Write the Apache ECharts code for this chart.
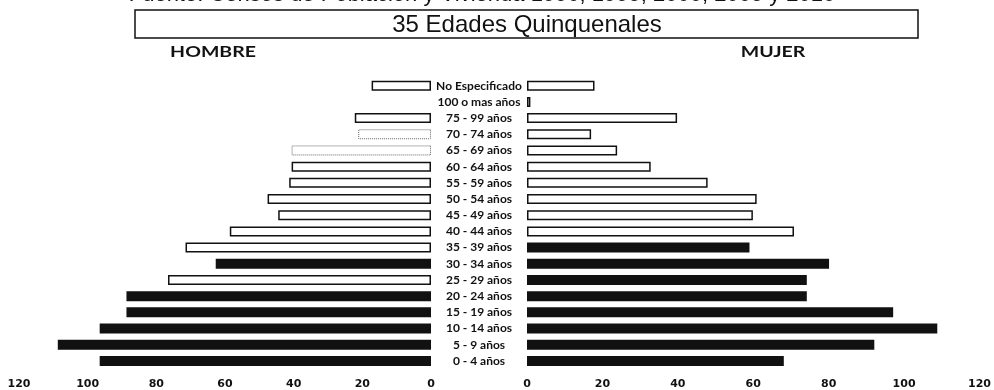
<!DOCTYPE html>
<html><head><meta charset="utf-8">
<script src="https://cdn.jsdelivr.net/npm/echarts@6/dist/echarts.min.js"></script>
<style>html,body{margin:0;padding:0;background:#fff}#c{width:994px;height:390px}</style>
</head><body><div id="c"></div>
<script>
// ---- data ----
const categories = ['0 - 4 años','5 - 9 años','10 - 14 años','15 - 19 años','20 - 24 años','25 - 29 años','30 - 34 años','35 - 39 años','40 - 44 años','45 - 49 años','50 - 54 años','55 - 59 años','60 - 64 años','65 - 69 años','70 - 74 años','75 - 99 años','100 o mas años','No Especificado'];
const hombre = [96.5,108.7,96.5,88.7,88.7,76.6,62.7,71.5,58.6,44.5,47.6,41.3,40.6,40.6,21.2,22.2,0,17.3];
const mujer  = [68.1,92.1,108.8,97.1,74.2,74.2,80.1,59.0,70.8,59.9,60.9,47.9,32.8,23.9,17.0,39.8,0.9,17.9];
const axisMin = 0, axisMax = 120, axisStep = 20;
const titleText = '35 Edades Quinquenales';
const sourceText = 'Fuente: Censos de Población y Vivienda 1990, 1995, 2000, 2005 y 2010';
const sideLabels = ['HOMBRE','MUJER'];

// ---- styling ----
const hombreSolid = new Set(['0 - 4 años','5 - 9 años','10 - 14 años','15 - 19 años','20 - 24 años','30 - 34 años']);
const mujerSolid = new Set(['0 - 4 años','5 - 9 años','10 - 14 años','15 - 19 años','20 - 24 años','25 - 29 años','30 - 34 años','35 - 39 años']);
const faint = new Set(['65 - 69 años','70 - 74 años']);

function styled(vals, solidSet, faintSet) {
  return vals.map((v, i) => {
    const c = categories[i];
    if (v === 0) return { value: v, itemStyle: { color: 'transparent', borderWidth: 0 } };
    if (solidSet.has(c)) return { value: v, itemStyle: { color: '#111', borderColor: '#111', borderWidth: 0 } };
    const f = faintSet && faintSet.has(c);
    return { value: v, itemStyle: { color: '#fff', borderColor: f ? '#666' : '#111', borderWidth: f ? 1 : 1.5, borderType: f ? 'dotted' : 'solid' } };
  });
}

const tickLabel = { color: '#111', fontFamily: 'DejaVu Sans', fontWeight: 'bold', fontSize: 11, margin: 10 };

const chart = echarts.init(document.getElementById('c'), null, { renderer: 'canvas' });
chart.setOption({
  animation: false,
  backgroundColor: '#fff',
  grid: [
    { left: 19, right: 563, top: 77.6, bottom: 20.2 },
    { left: 527, right: 7, top: 77.6, bottom: 20.2 }
  ],
  xAxis: [
    { gridIndex: 0, type: 'value', inverse: true, min: axisMin, max: axisMax, interval: axisStep,
      axisLine: { show: false }, axisTick: { show: false }, splitLine: { show: false }, axisLabel: tickLabel },
    { gridIndex: 1, type: 'value', min: axisMin, max: axisMax, interval: axisStep,
      axisLine: { show: false }, axisTick: { show: false }, splitLine: { show: false }, axisLabel: tickLabel }
  ],
  yAxis: [
    { gridIndex: 0, type: 'category', data: categories, axisLine: { show: false }, axisTick: { show: false }, axisLabel: { show: false } },
    { gridIndex: 1, type: 'category', data: categories, axisLine: { show: false }, axisTick: { show: false },
      axisLabel: { show: true, align: 'center', margin: 48, color: '#111', fontFamily: 'Lato', fontWeight: 'bold', fontSize: 12, interval: 0 } }
  ],
  series: [
    { type: 'bar', name: 'Hombre', xAxisIndex: 0, yAxisIndex: 0, barWidth: 10, data: styled(hombre, hombreSolid, faint) },
    { type: 'bar', name: 'Mujer', xAxisIndex: 1, yAxisIndex: 1, barWidth: 10, data: styled(mujer, mujerSolid, null) }
  ],
  graphic: [
    { type: 'text', style: { text: sourceText, x: 482, y: -5, align: 'center', verticalAlign: 'middle', fill: '#111', font: '22px "Liberation Sans"' } },
    { type: 'rect', shape: { x: 135, y: 10, width: 783, height: 28 }, style: { fill: '#fff', stroke: '#111', lineWidth: 1.5 } },
    { type: 'text', style: { text: titleText, x: 527, y: 25, align: 'center', verticalAlign: 'middle', fill: '#111', font: '24px "Liberation Sans"' } },
    { type: 'text', x: 213, y: 52, scaleX: 1.3, style: { text: sideLabels[0], x: 0, y: 0, align: 'center', verticalAlign: 'middle', fill: '#111', font: 'bold 15px Lato' } },
    { type: 'text', x: 773, y: 52, scaleX: 1.3, style: { text: sideLabels[1], x: 0, y: 0, align: 'center', verticalAlign: 'middle', fill: '#111', font: 'bold 15px Lato' } }
  ]
});
</script>
</body></html>
